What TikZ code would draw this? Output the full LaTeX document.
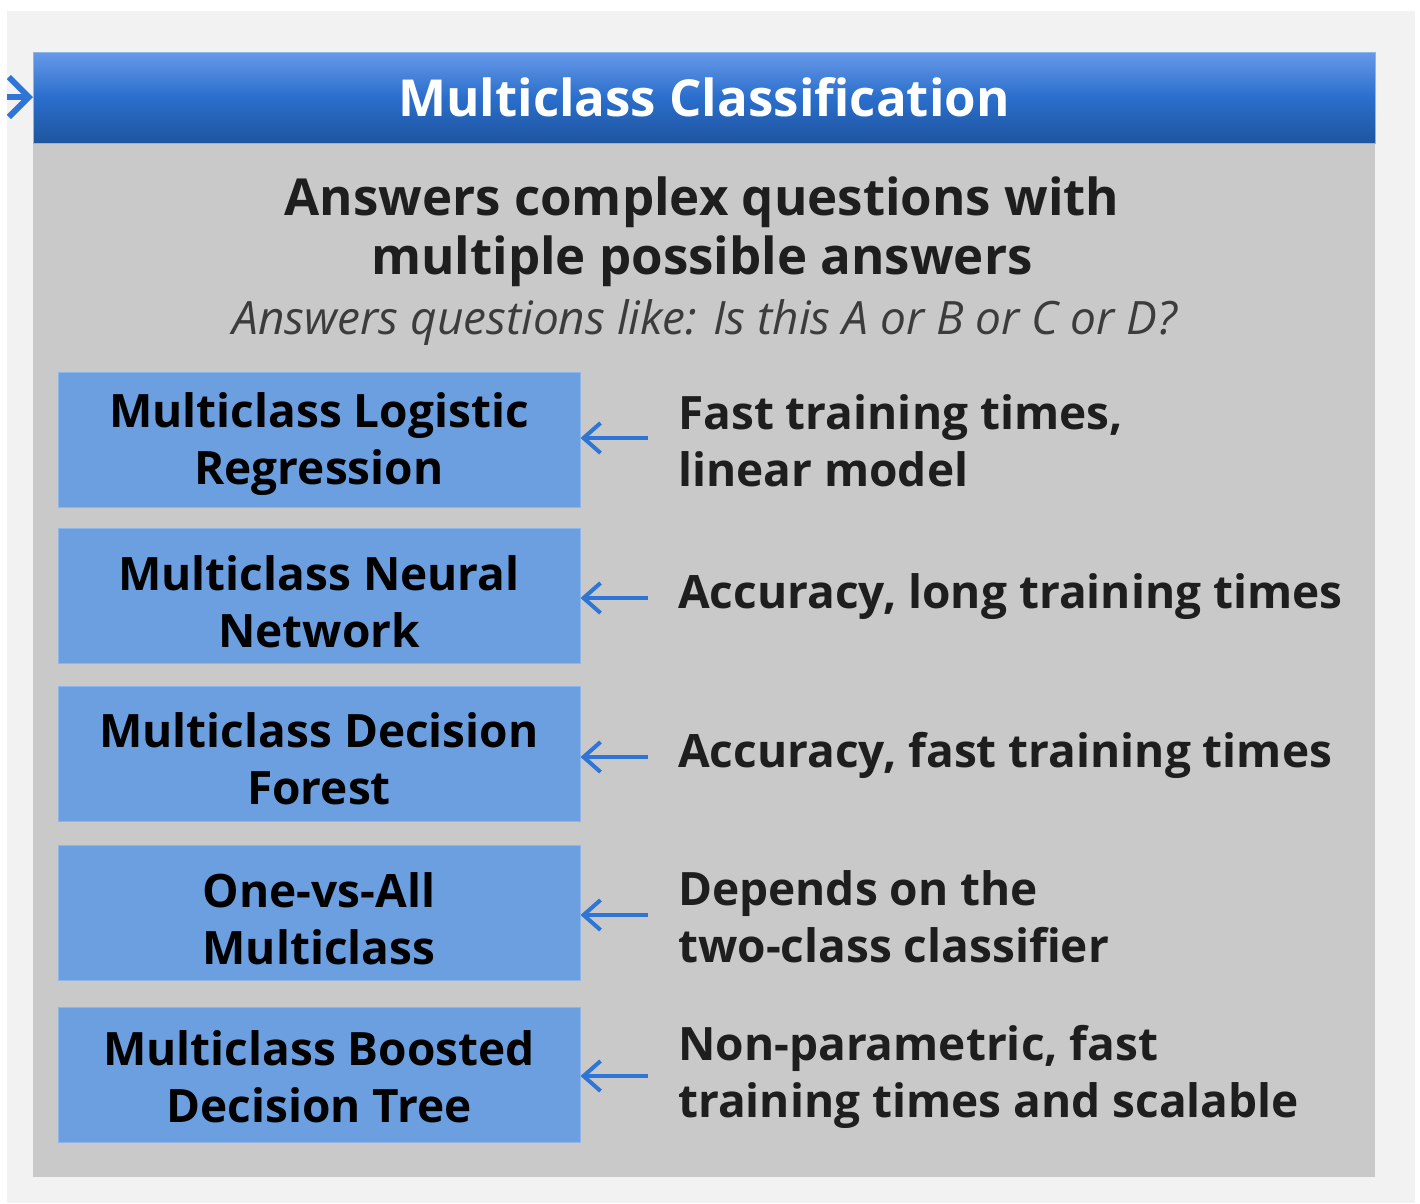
\documentclass[tikz,border=0pt]{standalone}
\usepackage{fontspec}
\setmainfont{Open Sans}
\usetikzlibrary{arrows.meta}
\definecolor{pagebg}{HTML}{F2F2F2}
\definecolor{panelgray}{HTML}{C9C9C9}
\definecolor{boxblue}{HTML}{6C9FE0}
\definecolor{boxedge}{HTML}{8DB5EA}
\definecolor{arrowblue}{HTML}{2E75D6}
\definecolor{hdtop}{HTML}{6899E8}
\definecolor{hdmid}{HTML}{2A6ECC}
\definecolor{hdbot}{HTML}{1F559F}
\definecolor{darktext}{HTML}{1E1E1E}
\definecolor{subtext}{HTML}{3C3C3C}
\tikzset{
  algbox/.style={fill=boxblue, draw=boxedge, line width=1pt, minimum width=522pt, minimum height=135pt,
    inner sep=0pt},
  algtext/.style={align=center, inner sep=0pt, font=\bfseries\fontsize{46}{57}\selectfont, text=black},
  notetext/.style={anchor=west, align=left, inner sep=0pt, font=\bfseries\fontsize{46}{57}\selectfont, text=darktext},
  pointer/.style={draw=arrowblue, line width=4pt, -{Straight Barb[length=17pt, width=30pt]}},
}
\begin{document}
\begin{tikzpicture}[x=1pt,y=-1pt]
\useasboundingbox (0,0) rectangle (1420,1203);
\fill[white] (0,0) rectangle (1420,1203);
\fill[pagebg] (7,11) rectangle (1415,1203);
% panel
\fill[panelgray] (33,143) rectangle (1375,1177);
% header
\shade[top color=hdtop, bottom color=hdbot, middle color=hdmid] (33,52) rectangle (1375,143);
\draw[boxedge, line width=1pt] (33,52) rectangle (1375,143);
\node[font=\bfseries\fontsize{51}{60}\selectfont, text=white, inner sep=0pt] (header) at (704,97) {Multiclass Classification};
\coordinate (hdleft) at (33,97);
\coordinate (instart) at (7,97);
\begin{scope}
\clip (7,52) rectangle (33,143);
\draw[draw=arrowblue, line width=6pt, -{Straight Barb[length=20pt, width=40pt]}] (instart) -- (hdleft);
\end{scope}
% headings
\node[font=\bfseries\fontsize{51}{59}\selectfont, text=darktext, align=center, inner sep=0pt] (lead) at (702,232)
  {Answers complex questions with\\multiple possible answers};
\node[font=\itshape\fontsize{46}{50}\selectfont, text=subtext, inner sep=0pt] (sub) at (705,323)
  {Answers questions like: Is this A or B or C or D?};
% boxes
\node[algbox] (b1) at (319,439.5) {};
\node[algbox] (b2) at (319,596) {};
\node[algbox] (b3) at (319,753.5) {};
\node[algbox] (b4) at (319,913) {};
\node[algbox] (b5) at (319,1075) {};
\node[algtext] (t1) at (319,444) {Multiclass Logistic\\Regression};
\node[algtext] (t2) at (319,602) {Multiclass Neural\\Network};
\node[algtext] (t3) at (319,759) {Multiclass Decision\\Forest};
\node[algtext] (t4) at (319,919) {One-vs-All\\Multiclass};
\node[algtext] (t5) at (319,1077) {Multiclass Boosted\\Decision Tree};
% notes
\node[notetext] (n1) at (678,441) {Fast training times,\\linear model};
\node[notetext] (n2) at (678,597) {Accuracy, long training times};
\node[notetext] (n3) at (678,755) {Accuracy, fast training times};
\node[notetext] (n4) at (678,917) {Depends on the\\two-class classifier};
\node[notetext] (n5) at (678,1077) {Non-parametric, fast\\training times and scalable};
% pointers
\foreach \i/\yy in {1/438,2/598,3/757,4/915,5/1076}{
  \coordinate (p\i) at (648,\yy);
  \draw[pointer] (p\i) -- (b\i.east |- p\i);
}
\end{tikzpicture}
\end{document}
